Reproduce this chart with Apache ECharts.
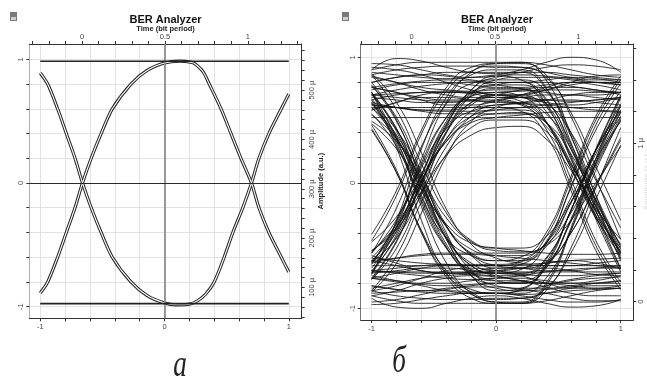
<!DOCTYPE html>
<html><head><meta charset="utf-8">
<script src="https://cdn.jsdelivr.net/npm/echarts@6/dist/echarts.min.js"></script>
<style>html,body{margin:0;padding:0;background:#fff}#c{width:647px;height:386px}</style>
</head><body><div id="c"></div>
<script>
// ---------------- text ----------------
const titleText = 'BER Analyzer';
const topAxisName = 'Time (bit period)';
const ampAxisName = 'Amplitude (a.u.)';
const panelLabels = ['а', 'б'];

// ---------------- ticks / labels ----------------
const dataTicks = [-1, -0.8, -0.6, -0.4, -0.2, 0, 0.2, 0.4, 0.6, 0.8, 1];
const dataTickLabels = [-1, 0, 1];
const timeTicks = [-0.3, -0.2, -0.1, 0, 0.1, 0.2, 0.3, 0.4, 0.5, 0.6, 0.7, 0.8, 0.9, 1, 1.1, 1.2, 1.3];
const timeTickLabels = [0, 0.5, 1];
const ampTicksA = [40, 60, 80, 100, 120, 140, 160, 180, 200, 220, 240, 260, 280, 300, 320, 340, 360, 380, 400, 420, 440, 460, 480, 500, 520, 540, 560, 580];
const ampTickLabelsA = [100, 200, 300, 400, 500];
const ampTicksB = [0, 0.2, 0.4, 0.6, 0.8, 1, 1.2, 1.4, 1.6];
const ampTickLabelsB = [0, 1];

// ---------------- panel a (clean eye) ----------------
const aUpperX = [-1, -0.94, -0.86, -0.79, -0.72, -0.66, -0.59, -0.51, -0.42, -0.27, -0.14, 0, 0.12, 0.22, 0.25, 0.31, 0.36, 0.455, 0.535, 0.615, 0.70, 0.76, 0.84, 0.94, 1.0];
const aUpperY = [-0.89, -0.8, -0.6, -0.4, -0.2, 0, 0.2, 0.4, 0.6, 0.8, 0.91, 0.97, 0.985, 0.975, 0.96, 0.9, 0.8, 0.6, 0.4, 0.2, 0, -0.2, -0.4, -0.6, -0.72];
const aLowerX = [-1, -0.94, -0.86, -0.79, -0.72, -0.66, -0.59, -0.51, -0.42, -0.27, -0.14, 0, 0.1, 0.2, 0.27, 0.33, 0.40, 0.48, 0.55, 0.63, 0.70, 0.76, 0.84, 0.94, 1.0];
const aLowerY = [0.89, 0.8, 0.6, 0.4, 0.2, 0, -0.2, -0.4, -0.6, -0.8, -0.91, -0.97, -0.985, -0.98, -0.95, -0.9, -0.8, -0.6, -0.4, -0.2, 0, 0.2, 0.4, 0.6, 0.72];
const aFlatX = [-1, 1];
const aTopFlatY = [0.985, 0.985];
const aBottomFlatY = [-0.975, -0.975];

// ---------------- panel б (noisy eye) ----------------
const bX = [-1, -0.8, -0.6, -0.4, -0.2, 0, 0.2, 0.4, 0.6, 0.8, 1];
const bHighStay = [
  [0.90, 0.99, 0.97, 0.92, 0.88, 0.87, 0.90, 0.96, 1.00, 0.98, 0.88],
  [0.80, 0.84, 0.86, 0.85, 0.82, 0.80, 0.80, 0.82, 0.84, 0.83, 0.80],
  [0.70, 0.74, 0.77, 0.79, 0.80, 0.78, 0.75, 0.72, 0.70, 0.70, 0.72],
  [0.62, 0.60, 0.58, 0.58, 0.60, 0.62, 0.63, 0.62, 0.60, 0.58, 0.57],
  [0.85, 0.80, 0.74, 0.70, 0.68, 0.68, 0.70, 0.74, 0.78, 0.80, 0.80],
  [0.52, 0.52, 0.52, 0.52, 0.52, 0.52, 0.52, 0.52, 0.52, 0.52, 0.52],
  [0.92, 0.90, 0.86, 0.80, 0.74, 0.70, 0.70, 0.74, 0.80, 0.85, 0.86],
  [0.66, 0.70, 0.72, 0.73, 0.72, 0.70, 0.68, 0.66, 0.65, 0.66, 0.68],
  [0.76, 0.72, 0.66, 0.62, 0.62, 0.65, 0.70, 0.76, 0.80, 0.78, 0.74],
  [0.74, 0.78, 0.80, 0.80, 0.78, 0.76, 0.76, 0.78, 0.80, 0.80, 0.78],
  [0.88, 0.86, 0.84, 0.83, 0.84, 0.86, 0.88, 0.88, 0.86, 0.84, 0.82],
  [0.58, 0.64, 0.68, 0.68, 0.66, 0.64, 0.64, 0.66, 0.70, 0.72, 0.72],
  [0.95, 0.94, 0.90, 0.86, 0.84, 0.85, 0.88, 0.92, 0.94, 0.93, 0.90],
  [0.68, 0.66, 0.64, 0.64, 0.66, 0.70, 0.74, 0.76, 0.76, 0.74, 0.70],
  [0.60, 0.60, 0.60, 0.60, 0.60, 0.60, 0.60, 0.60, 0.60, 0.60, 0.60]
];
const bLowStay = [
  [-0.92, -0.99, -1.00, -0.96, -0.92, -0.90, -0.92, -0.96, -0.99, -0.98, -0.93],
  [-0.82, -0.85, -0.86, -0.84, -0.82, -0.80, -0.79, -0.80, -0.82, -0.84, -0.84],
  [-0.70, -0.72, -0.74, -0.76, -0.77, -0.76, -0.74, -0.71, -0.69, -0.68, -0.68],
  [-0.60, -0.62, -0.64, -0.65, -0.66, -0.66, -0.65, -0.64, -0.62, -0.61, -0.60],
  [-0.90, -0.86, -0.80, -0.76, -0.74, -0.75, -0.78, -0.83, -0.88, -0.90, -0.90],
  [-0.66, -0.66, -0.66, -0.66, -0.66, -0.66, -0.66, -0.66, -0.66, -0.66, -0.66],
  [-0.95, -0.93, -0.89, -0.85, -0.83, -0.83, -0.85, -0.88, -0.92, -0.94, -0.94],
  [-0.74, -0.78, -0.82, -0.86, -0.88, -0.88, -0.86, -0.82, -0.78, -0.76, -0.75],
  [-0.86, -0.82, -0.76, -0.70, -0.68, -0.70, -0.74, -0.80, -0.84, -0.84, -0.82],
  [-0.76, -0.78, -0.80, -0.80, -0.78, -0.76, -0.76, -0.78, -0.80, -0.80, -0.78],
  [-0.88, -0.87, -0.86, -0.86, -0.87, -0.88, -0.89, -0.88, -0.86, -0.85, -0.84],
  [-0.62, -0.66, -0.70, -0.72, -0.72, -0.70, -0.68, -0.68, -0.70, -0.73, -0.74],
  [-0.97, -0.96, -0.93, -0.90, -0.88, -0.88, -0.90, -0.93, -0.95, -0.95, -0.93],
  [-0.72, -0.70, -0.68, -0.68, -0.70, -0.74, -0.78, -0.80, -0.80, -0.78, -0.74],
  [-0.71, -0.71, -0.71, -0.71, -0.71, -0.71, -0.71, -0.71, -0.71, -0.71, -0.71]
];
const bUpperArc = [
  [-0.68, -0.38, 0.07, 0.47, 0.69, 0.75, 0.75, 0.63, 0.27, -0.18, -0.57],
  [-0.54, -0.37, -0.07, 0.22, 0.38, 0.44, 0.45, 0.35, 0.10, -0.21, -0.45],
  [-0.73, -0.30, 0.27, 0.68, 0.86, 0.90, 0.90, 0.76, 0.32, -0.22, -0.68],
  [-0.63, -0.44, -0.09, 0.29, 0.53, 0.62, 0.63, 0.55, 0.27, -0.14, -0.56],
  [-0.76, -0.46, -0.01, 0.40, 0.62, 0.68, 0.65, 0.49, 0.12, -0.28, -0.54],
  [-0.56, -0.20, 0.29, 0.63, 0.79, 0.82, 0.82, 0.73, 0.40, -0.10, -0.60],
  [-0.55, -0.33, 0.02, 0.33, 0.50, 0.55, 0.56, 0.45, 0.15, -0.23, -0.55],
  [-0.77, -0.47, 0.00, 0.41, 0.64, 0.70, 0.70, 0.57, 0.19, -0.29, -0.71],
  [-0.62, -0.39, 0.01, 0.46, 0.74, 0.85, 0.82, 0.63, 0.20, -0.27, -0.58],
  [-0.41, -0.06, 0.42, 0.76, 0.92, 0.95, 0.95, 0.86, 0.53, 0.04, -0.45],
  [-0.86, -0.58, -0.15, 0.23, 0.44, 0.50, 0.50, 0.41, 0.14, -0.19, -0.49],
  [-0.65, -0.32, 0.12, 0.43, 0.57, 0.60, 0.57, 0.38, -0.06, -0.54, -0.85],
  [-0.56, -0.29, 0.14, 0.52, 0.72, 0.78, 0.78, 0.66, 0.31, -0.13, -0.50]
];
const bLowerArc = [
  [0.67, 0.37, -0.10, -0.51, -0.74, -0.80, -0.80, -0.68, -0.30, 0.16, 0.56],
  [0.49, 0.33, 0.04, -0.28, -0.47, -0.54, -0.55, -0.50, -0.30, 0.00, 0.29],
  [0.72, 0.28, -0.30, -0.72, -0.87, -0.95, -0.95, -0.80, -0.36, 0.19, 0.68],
  [0.63, 0.42, 0.07, -0.34, -0.58, -0.68, -0.65, -0.47, -0.04, 0.42, 0.73],
  [0.72, 0.43, -0.03, -0.44, -0.66, -0.72, -0.72, -0.65, -0.40, -0.03, 0.34],
  [0.42, 0.08, -0.38, -0.70, -0.85, -0.88, -0.85, -0.66, -0.22, 0.26, 0.57],
  [0.78, 0.49, 0.05, -0.35, -0.56, -0.62, -0.62, -0.51, -0.16, 0.26, 0.63],
  [0.80, 0.50, 0.02, -0.42, -0.66, -0.72, -0.72, -0.60, -0.22, 0.27, 0.70],
  [0.60, 0.38, 0.00, -0.45, -0.74, -0.86, -0.84, -0.64, -0.22, 0.26, 0.58],
  [0.43, 0.08, -0.40, -0.75, -0.92, -0.96, -0.96, -0.86, -0.52, -0.04, 0.44],
  [0.86, 0.58, 0.15, -0.24, -0.46, -0.52, -0.52, -0.43, -0.15, 0.19, 0.49],
  [0.66, 0.33, -0.12, -0.44, -0.58, -0.62, -0.59, -0.40, 0.05, 0.53, 0.85],
  [0.55, 0.29, -0.14, -0.52, -0.72, -0.78, -0.78, -0.66, -0.31, 0.13, 0.50]
];
const bRiseStay = [
  [-0.72, -0.41, 0.06, 0.49, 0.71, 0.78, 0.80, 0.80, 0.77, 0.74, 0.72],
  [-0.46, -0.10, 0.39, 0.73, 0.89, 0.93, 0.92, 0.88, 0.84, 0.82, 0.82],
  [-0.87, -0.64, -0.24, 0.21, 0.49, 0.60, 0.64, 0.66, 0.66, 0.64, 0.62],
  [-0.63, -0.36, 0.06, 0.44, 0.64, 0.70, 0.68, 0.64, 0.62, 0.64, 0.68],
  [-0.70, -0.43, 0.01, 0.45, 0.74, 0.84, 0.86, 0.85, 0.83, 0.80, 0.78],
  [-0.47, -0.27, 0.05, 0.33, 0.48, 0.52, 0.54, 0.56, 0.57, 0.57, 0.56],
  [-0.72, -0.35, 0.16, 0.52, 0.69, 0.72, 0.73, 0.74, 0.74, 0.73, 0.72],
  [-0.54, -0.35, -0.02, 0.35, 0.57, 0.66, 0.68, 0.70, 0.70, 0.68, 0.66],
  [-0.64, -0.31, 0.19, 0.64, 0.88, 0.95, 0.96, 0.94, 0.90, 0.86, 0.84],
  [-0.60, -0.35, 0.02, 0.35, 0.53, 0.58, 0.60, 0.62, 0.64, 0.66, 0.68],
  [-0.77, -0.52, -0.08, 0.40, 0.70, 0.82, 0.84, 0.84, 0.82, 0.80, 0.80]
];
const bStayFall = [
  [0.76, 0.79, 0.81, 0.82, 0.81, 0.80, 0.80, 0.67, 0.29, -0.19, -0.61],
  [0.70, 0.68, 0.66, 0.65, 0.65, 0.65, 0.62, 0.43, -0.02, -0.50, -0.82],
  [0.86, 0.90, 0.92, 0.93, 0.93, 0.92, 0.92, 0.84, 0.56, 0.13, -0.30],
  [0.62, 0.60, 0.58, 0.57, 0.57, 0.58, 0.58, 0.48, 0.16, -0.23, -0.56],
  [0.84, 0.80, 0.76, 0.74, 0.73, 0.74, 0.74, 0.61, 0.22, -0.26, -0.69],
  [0.58, 0.64, 0.70, 0.72, 0.71, 0.68, 0.68, 0.63, 0.40, 0.02, -0.36],
  [0.70, 0.71, 0.72, 0.72, 0.72, 0.72, 0.69, 0.49, 0.03, -0.46, -0.79],
  [0.80, 0.84, 0.86, 0.88, 0.88, 0.88, 0.88, 0.75, 0.37, -0.10, -0.51],
  [0.64, 0.60, 0.57, 0.55, 0.55, 0.55, 0.55, 0.48, 0.23, -0.15, -0.53],
  [0.90, 0.94, 0.96, 0.96, 0.96, 0.96, 0.96, 0.82, 0.38, -0.16, -0.62],
  [0.76, 0.72, 0.68, 0.66, 0.66, 0.66, 0.63, 0.48, 0.12, -0.26, -0.52]
];
const bLowRise = [
  [-0.76, -0.79, -0.81, -0.82, -0.81, -0.80, -0.80, -0.67, -0.29, 0.19, 0.61],
  [-0.70, -0.68, -0.66, -0.65, -0.65, -0.65, -0.62, -0.43, 0.02, 0.50, 0.82],
  [-0.86, -0.90, -0.92, -0.93, -0.93, -0.92, -0.92, -0.84, -0.56, -0.13, 0.30],
  [-0.62, -0.60, -0.58, -0.57, -0.57, -0.58, -0.58, -0.48, -0.16, 0.23, 0.56],
  [-0.84, -0.80, -0.76, -0.74, -0.73, -0.74, -0.74, -0.61, -0.22, 0.26, 0.69],
  [-0.58, -0.64, -0.70, -0.72, -0.71, -0.68, -0.68, -0.63, -0.40, -0.02, 0.36],
  [-0.70, -0.71, -0.72, -0.72, -0.72, -0.72, -0.69, -0.49, -0.03, 0.46, 0.79],
  [-0.82, -0.85, -0.87, -0.88, -0.88, -0.88, -0.88, -0.76, -0.38, 0.10, 0.51],
  [-0.64, -0.60, -0.57, -0.56, -0.56, -0.56, -0.56, -0.49, -0.24, 0.15, 0.53],
  [-0.90, -0.94, -0.96, -0.96, -0.96, -0.96, -0.96, -0.82, -0.38, 0.16, 0.62],
  [-0.76, -0.72, -0.68, -0.66, -0.66, -0.66, -0.63, -0.48, -0.12, 0.26, 0.52]
];
const bFallLow = [
  [0.72, 0.41, -0.06, -0.49, -0.71, -0.78, -0.80, -0.80, -0.77, -0.74, -0.72],
  [0.46, 0.10, -0.39, -0.73, -0.89, -0.93, -0.92, -0.88, -0.84, -0.82, -0.82],
  [0.87, 0.64, 0.24, -0.21, -0.49, -0.60, -0.64, -0.66, -0.66, -0.64, -0.62],
  [0.63, 0.36, -0.06, -0.44, -0.64, -0.70, -0.68, -0.64, -0.62, -0.64, -0.68],
  [0.70, 0.43, -0.01, -0.45, -0.74, -0.84, -0.86, -0.85, -0.83, -0.80, -0.78],
  [0.47, 0.27, -0.05, -0.33, -0.48, -0.52, -0.54, -0.56, -0.57, -0.57, -0.56],
  [0.72, 0.35, -0.16, -0.52, -0.69, -0.72, -0.73, -0.74, -0.74, -0.73, -0.72],
  [0.54, 0.35, 0.02, -0.35, -0.57, -0.66, -0.68, -0.70, -0.70, -0.68, -0.66],
  [0.64, 0.31, -0.19, -0.64, -0.88, -0.95, -0.96, -0.94, -0.90, -0.86, -0.84],
  [0.60, 0.35, -0.02, -0.35, -0.53, -0.58, -0.60, -0.62, -0.64, -0.66, -0.68],
  [0.77, 0.52, 0.08, -0.40, -0.70, -0.82, -0.84, -0.84, -0.82, -0.80, -0.80]
];

// ---------------- chart ----------------
const FONT = '"Liberation Sans", Arial, sans-serif';
const zip = (xs, ys) => xs.map((x, i) => [x, ys[i]]);

const panels = [
  { grid: { left: 29.3, top: 44, width: 272.4, height: 274.3 },
    xMin: -1.088, xMax: 1.104, yMin: -1.094, yMax: 1.124,
    tMin: -0.319, tMax: 1.325,
    ampMin: 37.3, ampMax: 593.6, ampTicks: ampTicksA, ampLabels: ampTickLabelsA,
    ampFmt: v => v + ' \u00b5', ampMargin: 6.5, ampNameGap: 15.5, ampNameColor: '#222', leftLineColor: '#b0b0b0' },
  { grid: { left: 360.7, top: 44, width: 272.6, height: 276 },
    xMin: -1.088, xMax: 1.101, yMin: -1.093, yMax: 1.106,
    tMin: -0.306, tMax: 1.330,
    ampMin: -0.1155, ampMax: 1.627, ampTicks: ampTicksB, ampLabels: ampTickLabelsB,
    ampFmt: v => (v === 0 ? '0' : v + ' \u00b5'), ampMargin: 4, ampNameGap: 10, ampNameColor: '#e0e0e0', leftLineColor: '#777' }
];

const tickLabelStyle = { fontSize: 7.5, color: '#444', fontFamily: FONT };
const grids = [], xAxes = [], yAxes = [], series = [];

panels.forEach((p, k) => {
  grids.push(Object.assign({ containLabel: false, outerBoundsMode: 'none', show: false }, p.grid));
  xAxes.push({ type: 'value', gridIndex: k, position: 'bottom', min: p.xMin, max: p.xMax,
    axisLine: { show: true, onZero: false, lineStyle: { color: '#333', width: 1 } },
    axisTick: { show: true, customValues: dataTicks, length: 3, lineStyle: { color: '#333' } },
    axisLabel: { show: true, customValues: dataTickLabels, margin: 5, ...tickLabelStyle },
    splitLine: { show: true, lineStyle: { color: '#e2e2e2', width: 1 } } });
  xAxes.push({ type: 'value', gridIndex: k, position: 'top', min: p.tMin, max: p.tMax,
    name: topAxisName, nameLocation: 'middle', nameGap: 11, nameMoveOverlap: false,
    nameTextStyle: { fontSize: 7.5, fontWeight: 'bold', color: '#222', fontFamily: FONT },
    axisLine: { show: true, onZero: false, lineStyle: { color: '#333', width: 1 } },
    axisTick: { show: true, customValues: timeTicks, length: 3, lineStyle: { color: '#333' } },
    axisLabel: { show: true, customValues: timeTickLabels, margin: 3, ...tickLabelStyle },
    splitLine: { show: false } });
  yAxes.push({ type: 'value', gridIndex: k, position: 'left', min: p.yMin, max: p.yMax,
    axisLine: { show: true, onZero: false, lineStyle: { color: p.leftLineColor, width: 1 } },
    axisTick: { show: true, customValues: dataTicks, length: 3, lineStyle: { color: '#333' } },
    axisLabel: { show: true, customValues: dataTickLabels, rotate: 90, margin: 4, ...tickLabelStyle },
    splitLine: { show: true, lineStyle: { color: '#e2e2e2', width: 1 } } });
  yAxes.push({ type: 'value', gridIndex: k, position: 'right', min: p.ampMin, max: p.ampMax,
    name: ampAxisName, nameLocation: 'middle', nameGap: p.ampNameGap, nameRotate: 90, nameMoveOverlap: false,
    nameTextStyle: { fontSize: 7.5, fontWeight: 'bold', color: p.ampNameColor, fontFamily: FONT },
    axisLine: { show: true, onZero: false, lineStyle: { color: '#333', width: 1 } },
    axisTick: { show: true, customValues: p.ampTicks, length: 3, lineStyle: { color: '#333' } },
    axisLabel: { show: true, customValues: p.ampLabels, rotate: 90, margin: p.ampMargin, formatter: p.ampFmt, ...tickLabelStyle },
    splitLine: { show: false } });

  series.push({ type: 'line', xAxisIndex: 2 * k, yAxisIndex: 2 * k, data: [], z: 1, silent: true,
    markLine: { silent: true, symbol: 'none', animation: false, label: { show: false },
      data: [ { xAxis: 0, lineStyle: { color: '#8e8e8e', width: 1.8, type: 'solid' } },
              { yAxis: 0, lineStyle: { color: '#2a2a2a', width: 1, type: 'solid' } } ] } });
});

// panel a curves: dark outline then white core -> double line look
[[aUpperX, aUpperY], [aLowerX, aLowerY]].forEach(([xs, ys]) => {
  series.push({ type: 'line', xAxisIndex: 0, yAxisIndex: 0, data: zip(xs, ys), smooth: 0.3,
    showSymbol: false, silent: true, z: 3, lineStyle: { color: '#262626', width: 3.2 } });
});
[[aUpperX, aUpperY], [aLowerX, aLowerY]].forEach(([xs, ys]) => {
  series.push({ type: 'line', xAxisIndex: 0, yAxisIndex: 0, data: zip(xs, ys), smooth: 0.3,
    showSymbol: false, silent: true, z: 4, lineStyle: { color: '#ffffff', width: 1.1 } });
});
[aTopFlatY, aBottomFlatY].forEach(ys => {
  series.push({ type: 'line', xAxisIndex: 0, yAxisIndex: 0, data: zip(aFlatX, ys),
    showSymbol: false, silent: true, z: 5, lineStyle: { color: '#222', width: 1.6 } });
});

// panel б traces
[bHighStay, bLowStay, bUpperArc, bLowerArc, bRiseStay, bStayFall, bLowRise, bFallLow].forEach(group => {
  group.forEach(tr => {
    series.push({ type: 'line', xAxisIndex: 2, yAxisIndex: 2, data: zip(bX, tr), smooth: 0.5,
      showSymbol: false, silent: true, z: 3, lineStyle: { color: '#111', width: 0.85 } });
  });
});

const chart = echarts.init(document.getElementById('c'), null, { renderer: 'canvas' });
chart.setOption({
  animation: false,
  backgroundColor: '#ffffff',
  grid: grids, xAxis: xAxes, yAxis: yAxes, series: series,
  graphic: [
    { type: 'text', x: 165.5, y: 20, style: { text: titleText, fill: '#111', font: 'bold 11px ' + FONT, align: 'center', verticalAlign: 'middle' } },
    { type: 'text', x: 497, y: 20, style: { text: titleText, fill: '#111', font: 'bold 11px ' + FONT, align: 'center', verticalAlign: 'middle' } },
    { type: 'rect', shape: { x: 10, y: 12, width: 7, height: 9 }, style: { fill: '#7a7a7a' } },
    { type: 'rect', shape: { x: 11, y: 17, width: 5, height: 3 }, style: { fill: '#cfcfcf' } },
    { type: 'rect', shape: { x: 342, y: 12, width: 7, height: 9 }, style: { fill: '#7a7a7a' } },
    { type: 'rect', shape: { x: 343, y: 17, width: 5, height: 3 }, style: { fill: '#cfcfcf' } },
    { type: 'text', x: 180, y: 366, scaleX: 0.8, scaleY: 1.1, style: { text: panelLabels[0], font: 'italic 34px "Liberation Serif", "DejaVu Serif", serif', fill: '#222', align: 'center', verticalAlign: 'middle' } },
    { type: 'text', x: 399, y: 362, scaleX: 0.8, scaleY: 1.1, style: { text: panelLabels[1], font: 'italic 34px "Liberation Serif", "DejaVu Serif", serif', fill: '#222', align: 'center', verticalAlign: 'middle' } }
  ]
});
</script>
</body></html>
